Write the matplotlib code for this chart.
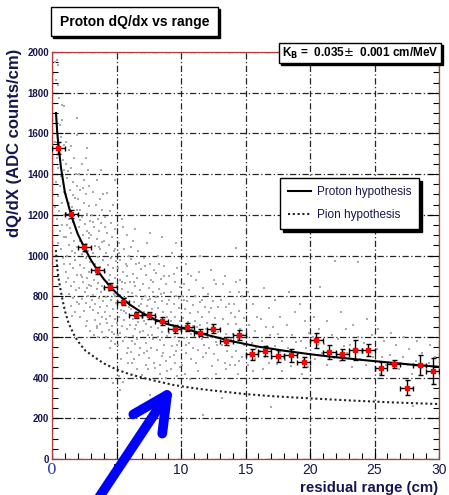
import matplotlib.pyplot as plt
from matplotlib.patches import Rectangle

plt.rcParams['font.family'] = ['Liberation Sans', 'DejaVu Sans']

# binned mean dQ/dx (red points)
bin_x = [0.5, 1.5, 2.5, 3.5, 4.5, 5.5, 6.5, 7.5, 8.5, 9.5,
         10.5, 11.5, 12.5, 13.5, 14.5, 15.5, 16.5, 17.5, 18.5, 19.5,
         20.5, 21.5, 22.5, 23.5, 24.5, 25.5, 26.5, 27.5, 28.5, 29.5]
bin_y = [1527, 1202, 1040, 927, 847, 773, 708, 706, 678, 639,
         649, 621, 639, 578, 609, 514, 531, 506, 509, 477,
         583, 524, 514, 536, 536, 446, 467, 350, 462, 432]
bin_yerr = [30, 20, 18, 18, 16, 18, 16, 18, 20, 18,
            20, 18, 22, 20, 25, 26, 23, 28, 33, 23,
            38, 34, 26, 50, 29, 33, 20, 37, 47, 65]
bin_half_width = 0.5

# hypothesis curves
proton_x = [0.31, 0.4, 0.5, 0.7, 1.0, 1.5, 2.0, 2.5, 3.0, 3.5, 4.0, 4.5, 5.0, 6.0, 7.0,
            8.0, 9.0, 10.0, 12.0, 14.0, 15.0, 16.0, 18.0, 20.0, 22.0, 24.0, 26.0, 28.0, 30.0]
proton_y = [1700, 1610, 1540, 1430, 1310, 1195, 1105, 1040, 980, 930, 885, 848, 815, 760, 718,
            685, 662, 645, 610, 578, 565, 552, 532, 515, 500, 487, 475, 463, 453]
pion_x = [0.3, 0.4, 0.5, 0.75, 1.0, 1.3, 1.78, 2.2, 2.6, 3.2, 4.0, 5.0, 6.0, 7.0, 8.0,
          9.4, 11.0, 12.0, 14.0, 15.0, 17.0, 20.0, 23.0, 26.0, 30.0]
pion_y = [1027, 945, 890, 802, 728, 665, 601, 562, 532, 505, 470, 440, 417, 400, 384,
          364, 348, 340, 326, 319, 309, 298, 288, 279, 270]

# individual hits (grey cloud)
hits = [
    (0.1, 1890), (0.2, 1950), (0.35, 1960), (0.5, 1935), (0.3, 1860), (0.45, 1840), (0.55, 1775),
    (0.8, 1740), (0.9, 1735), (0.8, 1665), (0.6, 1640), (0.4, 1610), (0.7, 1580), (0.25, 1560),
    (0.9, 1545), (0.65, 1500), (0.35, 1480), (0.85, 1470), (0.5, 1430), (0.95, 1420), (0.7, 1390),
    (0.3, 1360), (0.6, 1340), (0.9, 1310), (0.45, 1290), (0.75, 1260), (0.2, 1240), (0.55, 1220),
    (0.95, 1200), (0.4, 1180), (0.8, 1150), (0.6, 1120), (0.9, 1090), (0.5, 1060), (0.7, 1030),
    (0.85, 990), (0.95, 960),
    (1.1, 1560), (1.9, 1675), (1.3, 1520), (1.7, 1480), (1.05, 1450), (1.5, 1430), (1.85, 1400),
    (1.2, 1380), (1.6, 1360), (1.95, 1340), (1.4, 1320), (1.1, 1300), (1.75, 1285), (1.3, 1260),
    (1.55, 1240), (1.9, 1225), (1.05, 1210), (1.35, 1180), (1.65, 1165), (1.2, 1150), (1.85, 1130),
    (1.45, 1110), (1.1, 1090), (1.7, 1070), (1.3, 1050), (1.95, 1040), (1.55, 1020), (1.15, 1000),
    (1.8, 980), (1.4, 960), (1.6, 940), (1.05, 920), (1.9, 905), (1.25, 890), (1.7, 870),
    (1.5, 850), (1.85, 830), (1.35, 810), (1.65, 790), (1.95, 770), (1.45, 750), (1.8, 720),
    (1.22, 1415), (1.62, 1295), (1.38, 1135), (1.78, 1010), (1.12, 870), (1.58, 705),
    (1.92, 1590), (1.48, 1540),
    (2.7, 1527), (2.3, 1450), (2.8, 1420), (2.1, 1400), (2.5, 1370), (2.9, 1340), (2.2, 1320),
    (2.6, 1300), (2.05, 1280), (2.45, 1260), (2.85, 1245), (2.15, 1225), (2.7, 1205), (2.35, 1190),
    (2.95, 1170), (2.55, 1155), (2.1, 1140), (2.75, 1120), (2.4, 1100), (2.9, 1085), (2.2, 1070),
    (2.6, 1055), (2.05, 1040), (2.8, 1020), (2.3, 1005), (2.65, 990), (2.95, 970), (2.15, 955),
    (2.5, 940), (2.85, 920), (2.25, 905), (2.7, 890), (2.4, 870), (2.9, 855), (2.1, 840),
    (2.55, 820), (2.8, 800), (2.3, 785), (2.65, 765), (2.95, 745), (2.45, 725), (2.2, 700),
    (2.75, 680), (2.6, 655),
    (2.42, 1330), (2.18, 1175), (2.88, 1110), (2.52, 1015), (2.32, 895), (2.72, 840),
    (2.12, 760), (2.92, 630), (2.62, 1480),
    (3.2, 1310), (3.7, 1280), (3.4, 1250), (3.9, 1225), (3.1, 1200), (3.55, 1180), (3.8, 1160),
    (3.25, 1140), (3.65, 1120), (3.05, 1100), (3.45, 1080), (3.9, 1065), (3.3, 1045), (3.75, 1030),
    (3.15, 1010), (3.55, 995), (3.95, 980), (3.35, 960), (3.7, 945), (3.1, 930), (3.5, 910),
    (3.85, 895), (3.25, 880), (3.6, 865), (3.05, 850), (3.45, 835), (3.8, 820), (3.2, 805),
    (3.65, 790), (3.95, 775), (3.35, 760), (3.75, 745), (3.15, 730), (3.55, 715), (3.9, 700),
    (3.3, 685), (3.7, 665), (3.45, 645), (3.85, 625), (3.6, 600),
    (3.48, 1370), (3.92, 1300), (3.18, 1165), (3.62, 1040), (3.42, 925), (3.88, 850),
    (3.12, 780), (3.52, 655), (3.28, 610), (3.78, 1420),
    (4.3, 1305), (4.7, 1250), (4.1, 1190), (4.55, 1160), (4.9, 1130), (4.25, 1110), (4.65, 1090),
    (4.05, 1070), (4.45, 1050), (4.85, 1030), (4.2, 1010), (4.6, 990), (4.95, 975), (4.35, 955),
    (4.75, 940), (4.1, 920), (4.5, 905), (4.9, 890), (4.25, 870), (4.65, 855), (4.05, 840),
    (4.4, 825), (4.8, 810), (4.2, 795), (4.6, 780), (4.95, 765), (4.3, 750), (4.7, 735),
    (4.1, 720), (4.5, 705), (4.85, 690), (4.25, 670), (4.65, 655), (4.4, 635), (4.8, 615),
    (4.15, 600), (4.55, 580), (4.9, 565), (4.7, 373),
    (4.52, 1220), (4.12, 1140), (4.78, 1020), (4.38, 880), (4.92, 800), (4.18, 690),
    (4.62, 625), (4.48, 545), (4.88, 1370),
    (5.4, 1180), (5.8, 1100), (5.2, 1060), (5.6, 1030), (5.95, 1000), (5.3, 980), (5.7, 960),
    (5.1, 940), (5.5, 920), (5.85, 900), (5.25, 880), (5.65, 865), (5.05, 850), (5.45, 835),
    (5.9, 820), (5.3, 805), (5.7, 790), (5.15, 775), (5.55, 760), (5.95, 745), (5.35, 730),
    (5.75, 715), (5.2, 700), (5.6, 685), (5.05, 670), (5.45, 655), (5.85, 640), (5.3, 620),
    (5.7, 600), (5.5, 580), (5.15, 560), (5.9, 545), (5.2, 410), (5.5, 380), (5.3, 340),
    (5.52, 1140), (5.18, 1010), (5.82, 950), (5.42, 870), (5.62, 725), (5.08, 610),
    (5.78, 520), (5.38, 490), (5.92, 470),
    (6.3, 1070), (6.7, 1020), (6.1, 985), (6.5, 960), (6.9, 935), (6.25, 910), (6.6, 890),
    (6.05, 870), (6.45, 850), (6.85, 830), (6.2, 815), (6.55, 800), (6.95, 785), (6.35, 770),
    (6.75, 750), (6.1, 735), (6.5, 720), (6.9, 705), (6.3, 690), (6.65, 675), (6.05, 660),
    (6.45, 640), (6.85, 625), (6.25, 605), (6.6, 590), (6.4, 565), (6.8, 545), (6.15, 525),
    (6.2, 470), (6.6, 440),
    (6.42, 1130), (6.12, 1040), (6.78, 965), (6.32, 870), (6.92, 760), (6.52, 660),
    (6.18, 580), (6.72, 510), (6.38, 490),
    (7.4, 1060), (7.1, 990), (7.6, 960), (7.9, 930), (7.3, 905), (7.7, 880), (7.05, 860),
    (7.5, 840), (7.85, 820), (7.2, 800), (7.6, 785), (7.95, 770), (7.35, 750), (7.75, 735),
    (7.1, 720), (7.5, 700), (7.9, 685), (7.25, 665), (7.65, 650), (7.05, 630), (7.45, 610),
    (7.85, 590), (7.3, 570), (7.7, 545), (7.15, 520), (7.55, 495), (7.0, 415), (7.6, 314),
    (7.3, 460),
    (7.62, 1110), (7.22, 950), (7.82, 870), (7.42, 780), (7.12, 680), (7.72, 610),
    (7.38, 530), (7.92, 470), (7.48, 440),
    (8.5, 1090), (8.2, 1000), (8.7, 950), (8.1, 915), (8.45, 885), (8.85, 860), (8.3, 835),
    (8.65, 815), (8.05, 795), (8.5, 775), (8.9, 760), (8.25, 740), (8.6, 720), (8.1, 700),
    (8.45, 685), (8.8, 665), (8.2, 645), (8.55, 625), (8.95, 605), (8.35, 585), (8.7, 560),
    (8.15, 535), (8.5, 505), (8.85, 480), (8.0, 445), (8.4, 420), (8.8, 400),
    (8.32, 960), (8.72, 900), (8.42, 810), (8.88, 700), (8.22, 600), (8.62, 520),
    (8.38, 460), (8.92, 430),
    (9.3, 1010), (9.7, 940), (9.1, 900), (9.5, 870), (9.9, 845), (9.25, 820), (9.6, 800),
    (9.05, 780), (9.45, 760), (9.85, 740), (9.2, 720), (9.55, 700), (9.95, 680), (9.35, 660),
    (9.7, 640), (9.1, 620), (9.5, 600), (9.85, 580), (9.3, 555), (9.65, 530), (9.15, 500),
    (9.55, 470), (9.2, 440), (9.7, 410),
    (9.62, 1060), (9.42, 910), (9.82, 790), (9.22, 680), (9.72, 560), (9.42, 510), (9.92, 450),
    (10.4, 960), (10.8, 900), (10.2, 860), (10.6, 830), (10.1, 800), (10.5, 775), (10.9, 755),
    (10.3, 735), (10.7, 715), (10.15, 695), (10.55, 675), (10.95, 655), (10.35, 635), (10.75, 615),
    (10.2, 595), (10.6, 570), (10.9, 545), (10.4, 520), (10.8, 490), (10.1, 460), (10.3, 420),
    (10.7, 395), (10.52, 910), (10.22, 780), (10.82, 640), (10.42, 560),
    (11.5, 1000), (11.2, 880), (11.7, 840), (11.1, 800), (11.45, 770), (11.85, 745), (11.3, 720),
    (11.65, 700), (11.05, 680), (11.5, 660), (11.9, 640), (11.25, 615), (11.6, 590), (11.8, 560),
    (11.35, 535), (11.7, 500), (11.15, 470), (11.7, 216), (11.3, 430),
    (11.42, 920), (11.62, 780), (11.22, 650), (11.92, 520),
    (12.3, 930), (12.7, 860), (12.1, 810), (12.5, 775), (12.9, 745), (12.2, 720), (12.6, 695),
    (12.05, 670), (12.45, 650), (12.85, 625), (12.3, 600), (12.7, 575), (12.15, 545), (12.55, 515),
    (12.9, 485), (12.4, 455), (12.0, 400), (12.7, 420), (12.52, 880), (12.32, 740), (12.82, 560),
    (13.4, 900), (13.8, 820), (13.1, 780), (13.5, 745), (13.9, 715), (13.25, 690), (13.65, 665),
    (13.05, 640), (13.45, 615), (13.85, 590), (13.2, 560), (13.6, 530), (13.2, 300), (13.95, 500),
    (13.4, 470), (13.5, 440), (13.22, 860), (13.72, 760), (13.32, 580), (13.82, 460),
    (14.3, 1037), (14.6, 880), (14.3, 870), (14.7, 800), (14.1, 760), (14.5, 725), (14.9, 695),
    (14.25, 665), (14.6, 640), (14.05, 615), (14.45, 590), (14.85, 560), (14.3, 530), (14.7, 500),
    (14.15, 460), (14.4, 420), (14.52, 820), (14.22, 700), (14.82, 610), (14.52, 480),
    (15.2, 820), (15.6, 760), (15.9, 700), (15.3, 660), (15.7, 630), (15.1, 600), (15.5, 570),
    (15.85, 545), (15.35, 520), (15.75, 490), (15.2, 460), (15.6, 430),
    (16.4, 840), (16.8, 740), (16.2, 690), (16.6, 650), (16.9, 610), (16.3, 580), (16.7, 555),
    (16.1, 530), (16.5, 500), (16.85, 470), (16.35, 440), (17.0, 257),
    (17.3, 780), (17.7, 700), (17.1, 650), (17.5, 615), (17.85, 580), (17.25, 555), (17.65, 525),
    (17.05, 495), (17.45, 465), (17.8, 430),
    (18.4, 820), (18.8, 720), (18.2, 660), (18.6, 610), (18.95, 575), (18.3, 545), (18.7, 515),
    (18.1, 485), (18.5, 455),
    (19.2, 760), (19.6, 680), (19.9, 620), (19.3, 580), (19.7, 545), (19.1, 515), (19.5, 485),
    (19.85, 450), (19.35, 420),
    (20.8, 845), (21.9, 973), (23.7, 968), (20.3, 700), (20.7, 640), (20.2, 600), (20.6, 560),
    (20.9, 520), (20.4, 490), (21.3, 680), (21.7, 610), (21.1, 565), (21.5, 530), (21.85, 495),
    (21.3, 460), (22.4, 720), (22.8, 640), (22.2, 590), (22.6, 555), (22.9, 520), (22.35, 480),
    (23.3, 660), (23.7, 600), (23.1, 560), (23.5, 525), (23.85, 490), (23.25, 450), (24.4, 690),
    (24.8, 610), (24.2, 570), (24.6, 530), (24.9, 500), (24.35, 460), (23.6, 395),
    (25.3, 640), (25.7, 580), (25.2, 540), (25.6, 500), (25.9, 460), (25.4, 420), (26.3, 620),
    (26.7, 560), (26.2, 510), (26.6, 480), (26.9, 440), (27.3, 600), (27.7, 540), (27.2, 500),
    (27.6, 460), (27.9, 420), (28.3, 580), (28.7, 520), (28.2, 480), (28.6, 445), (28.0, 260),
    (29.3, 560), (29.7, 500), (29.2, 470), (29.6, 430),
]
hit_x = [h[0] for h in hits]
hit_y = [h[1] for h in hits]

navy = '#16164e'
W, H = 449, 495


def fx(px):
    return px / W


def fy(py):
    return 1 - py / H


def shadow_box(x0, y0, x1, y1):
    # ROOT style pave: white box with a black drop shadow
    fig.add_artist(Rectangle((fx(x0) + 2 / W, fy(y1) - 2 / H), (x1 - x0) / W, (y1 - y0) / H,
                             transform=fig.transFigure, facecolor='black', edgecolor='black', zorder=5))
    fig.add_artist(Rectangle((fx(x0), fy(y1)), (x1 - x0) / W, (y1 - y0) / H,
                             transform=fig.transFigure, facecolor='white', edgecolor='black',
                             lw=1, zorder=6))


fig = plt.figure(figsize=(4.49, 4.95), dpi=100)
ax = fig.add_axes([52 / W, 36 / H, 387 / W, 407 / H])

ax.scatter(hit_x, hit_y, s=2.5, marker='s', color='#aaaaaa', linewidths=0, zorder=2)
l1, = ax.plot(proton_x, proton_y, color='black', lw=1.5, zorder=3, label='Proton hypothesis')
l2, = ax.plot(pion_x, pion_y, color='#222222', lw=1.5, ls=(0, (1, 1.3)), zorder=3,
              label='Pion hypothesis')
ax.errorbar(bin_x, bin_y, xerr=bin_half_width, yerr=bin_yerr, fmt='s', ms=3.2,
            mfc='red', mec='red', ecolor='black', elinewidth=1, capsize=1.8, capthick=1, zorder=4)

ax.set_xlim(0, 30)
ax.set_ylim(0, 2000)
ax.set_xticks(range(0, 31, 5))
ax.set_xticks(range(0, 31, 1), minor=True)
ax.set_yticks(range(0, 2001, 200))
ax.set_yticks(range(0, 2001, 50), minor=True)
ax.grid(True, which='major', color='#262626', lw=0.9, ls=(0, (5, 2, 1, 2)), zorder=1)
ax.set_axisbelow(True)

ax.tick_params(which='both', direction='in', colors='black', right=True, top=False)
ax.tick_params(which='major', length=8, width=0.8)
ax.tick_params(which='minor', length=4.5, width=0.8)
ax.tick_params(axis='y', labelsize=7, labelcolor=navy, pad=2)
ax.tick_params(axis='x', labelsize=10, labelcolor=navy, pad=3)
for lab in ax.get_yticklabels():
    lab.set_fontweight('bold')
xlabs = ax.get_xticklabels()
xlabs[0].set_family('DejaVu Serif')
xlabs[0].set_color('#2a3fa8')
xlabs[0].set_fontsize(11)
for sp in ax.spines.values():
    sp.set_color('#b23b3b')
    sp.set_linewidth(0.9)

fig.text(fx(15), fy(49), 'dQ/dX (ADC counts/cm)', rotation=90, ha='center', va='top',
         fontsize=12, fontweight='bold', color=navy)
fig.text(fx(438), fy(488), 'residual range (cm)', ha='right', va='center',
         fontsize=10.8, fontweight='bold', color=navy)

leg = ax.legend(handles=[l1, l2], loc='upper left', bbox_to_anchor=(fx(280), fy(178)),
                bbox_transform=fig.transFigure, borderaxespad=0, fancybox=False,
                edgecolor='black', framealpha=1, fontsize=8.5, handlelength=2.0,
                handletextpad=0.5, labelspacing=1.0, borderpad=0.65,
                shadow={'color': 'black', 'alpha': 1})
leg.get_frame().set_linewidth(1)
for t in leg.get_texts():
    t.set_color(navy)

shadow_box(51, 7, 218, 36)
fig.text(fx(134.5), fy(22), 'Proton dQ/dx vs range', ha='center', va='center',
         fontsize=10, fontweight='bold', color='black', zorder=7)
shadow_box(279, 43, 441, 63)
fig.text(fx(360), fy(53.5), r'K$_\mathbf{B}$ =  0.035$\pm$  0.001 cm/MeV', ha='center',
         va='center', fontsize=8.5, fontweight='bold', color='black', zorder=7)

ax.annotate('', xy=(fx(173), fy(386)), xytext=(fx(96), fy(502)), xycoords='figure fraction',
            textcoords='figure fraction',
            arrowprops=dict(arrowstyle='->, head_length=2.5, head_width=1.25', color='#0000ff',
                            lw=7, shrinkA=0, shrinkB=0), annotation_clip=False, zorder=10)

fig.savefig('out.png', dpi=100)
